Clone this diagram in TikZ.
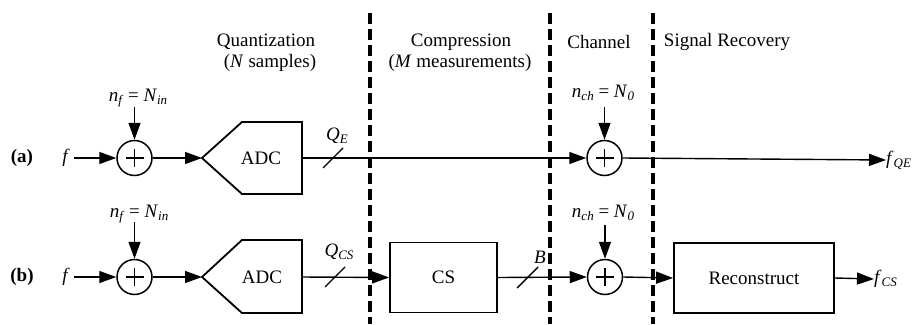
\documentclass[tikz,border=0pt]{standalone}
\usepackage{fontspec}
\setmainfont{Liberation Serif}
\usetikzlibrary{arrows.meta}
\newcommand{\iv}[1]{\textit{#1}}
\newcommand{\sbs}[1]{\raisebox{-0.35ex}{\fontsize{13}{13}\selectfont\textit{#1}}}
\begin{document}
\begin{tikzpicture}[x=1pt,y=-1pt,
  every node/.style={font=\fontsize{19}{22}\selectfont, inner sep=0pt},
  line/.style={line width=1.4pt},
  arr/.style={line width=1.4pt,-{Triangle[length=17pt,width=12pt]}},
  blockbox/.style={draw,line width=1.8pt,rectangle,minimum height=70pt},
  sumnode/.style={draw,line width=1.5pt,circle,minimum size=35pt},
  divider/.style={line width=3.2pt,dash pattern=on 11pt off 5pt},
  slash/.style={line width=1.4pt}]
\useasboundingbox (0,0) rectangle (920,324);
% headers
\node (h1) at (266,42) {Quantization};
\node (h1b) at (270,63) {(\iv{N} samples)};
\node (h2) at (461,42) {Compression};
\node (h2b) at (460,63) {(\iv{M} measurements)};
\node (h3) at (599,42) {Channel};
\node (h4) at (727,42) {Signal Recovery};
% dividers
\coordinate (d1t) at (370,13); \coordinate (d1b) at (370,324);
\coordinate (d2t) at (550,13); \coordinate (d2b) at (550,324);
\coordinate (d3t) at (653,13); \coordinate (d3b) at (653,324);
\draw[divider] (d1t) -- (d1b);
\draw[divider] (d2t) -- (d2b);
\draw[divider] (d3t) -- (d3b);
% ---------- row (a)
\node[font=\fontsize{19}{22}\selectfont\bfseries] (la) at (22,158) {(a)};
\node (fa) at (66,158) {\iv{f}};
\node[sumnode] (suma) at (134.5,158) {};
\draw[line width=1.2pt] ([xshift=-9pt]suma.center) -- ([xshift=9pt]suma.center)
  ([yshift=-9pt]suma.center) -- ([yshift=9pt]suma.center);
\node (na) at (138,98) {\iv{n}\sbs{f} = \iv{N}\sbs{in}};
\coordinate (nat) at (134.5,107);
\draw[arr] (nat) -- (suma.north);
\draw[arr] ([xshift=4pt]fa.east) -- (suma.west);
\coordinate (adcatip) at (202,158);
\draw[line width=1.8pt] (adcatip) -- (242,122) -- (302,122) -- (302,194) -- (242,194) -- cycle;
\node (adca) at (261,158) {ADC};
\coordinate (adcaout) at (302,158);
\draw[arr] (suma.east) -- (adcatip);
\node[sumnode] (sumca) at (604.5,158) {};
\draw[line width=1.2pt] ([xshift=-9pt]sumca.center) -- ([xshift=9pt]sumca.center)
  ([yshift=-9pt]sumca.center) -- ([yshift=9pt]sumca.center);
\draw[arr] (adcaout) -- (sumca.west);
\node (nca) at (603,93) {\iv{n}\sbs{ch} = \iv{N}\sbs{0}};
\coordinate (ncat) at (604.5,107);
\draw[arr] (ncat) -- (sumca.north);
\node[anchor=west] (fqe) at (886,160) {\iv{f}\sbs{QE}};
\draw[arr] (sumca.east) -- (fqe.west);
\node (qe) at (337,136) {\iv{Q}\sbs{E}};
\coordinate (sa1) at (323,168); \coordinate (sa2) at (343,148);
\draw[slash] (sa1) -- (sa2);
% ---------- row (b)
\node[font=\fontsize{19}{22}\selectfont\bfseries] (lb) at (22,277) {(b)};
\node (fb) at (66,277) {\iv{f}};
\node[sumnode] (sumb) at (134.5,277) {};
\draw[line width=1.2pt] ([xshift=-9pt]sumb.center) -- ([xshift=9pt]sumb.center)
  ([yshift=-9pt]sumb.center) -- ([yshift=9pt]sumb.center);
\node (nb) at (139,214) {\iv{n}\sbs{f} = \iv{N}\sbs{in}};
\coordinate (nbt) at (134.5,222);
\draw[arr] (nbt) -- (sumb.north);
\draw[arr] ([xshift=4pt]fb.east) -- (sumb.west);
\coordinate (adcbtip) at (202,277);
\draw[line width=1.8pt] (adcbtip) -- (242,240) -- (302,240) -- (302,313) -- (242,313) -- cycle;
\node (adcb) at (262,277) {ADC};
\coordinate (adcbout) at (302,277);
\draw[arr] (sumb.east) -- (adcbtip);
\node[blockbox,minimum width=107pt] (cs) at (443.5,277.5) {CS};
\draw[arr] (adcbout) -- (cs.west);
\node (qcs) at (339,252) {\iv{Q}\sbs{CS}};
\coordinate (sb1) at (325,287); \coordinate (sb2) at (345,267);
\draw[slash] (sb1) -- (sb2);
\node[sumnode] (sumcb) at (605,277) {};
\draw[line width=1.2pt] ([xshift=-9pt]sumcb.center) -- ([xshift=9pt]sumcb.center)
  ([yshift=-9pt]sumcb.center) -- ([yshift=9pt]sumcb.center);
\draw[arr] (cs.east) -- (sumcb.west);
\node (B) at (540,257) {\iv{B}};
\coordinate (sc1) at (517,288); \coordinate (sc2) at (538,267);
\draw[slash] (sc1) -- (sc2);
\node (ncb) at (603,213) {\iv{n}\sbs{ch} = \iv{N}\sbs{0}};
\coordinate (ncbt) at (605,225);
\draw[arr] (ncbt) -- (sumcb.north);
\node[blockbox,minimum width=160pt] (rec) at (754,278) {Reconstruct};
\draw[arr] (sumcb.east) -- (rec.west);
\node[anchor=west] (fcs) at (874,279) {\iv{f}\sbs{CS}};
\draw[arr] (rec.east) -- (fcs.west);
\end{tikzpicture}
\end{document}
